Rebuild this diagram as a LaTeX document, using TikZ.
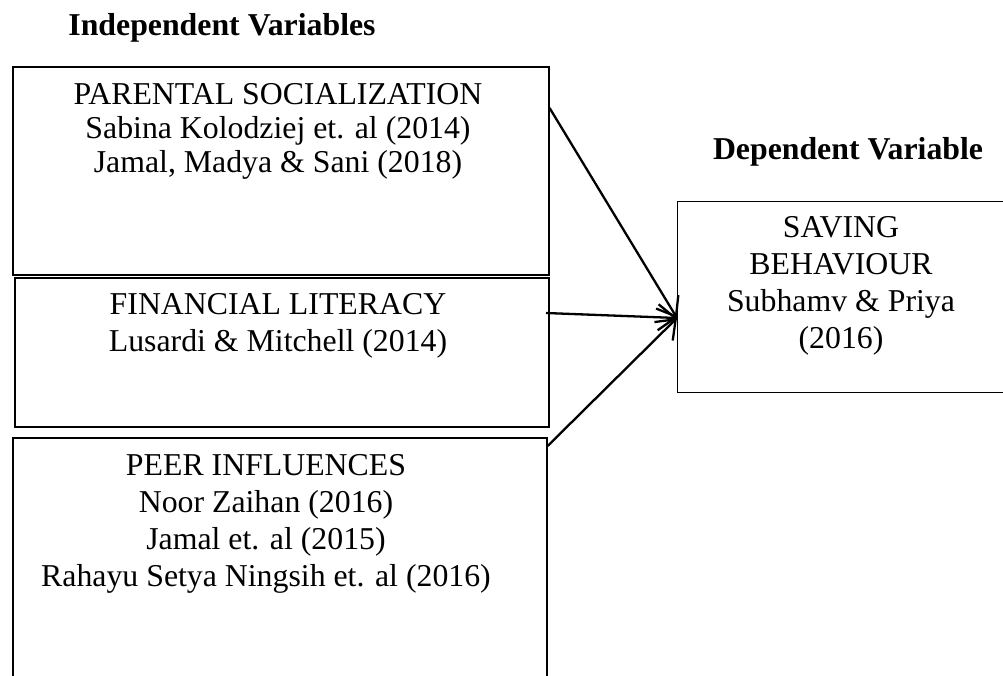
\documentclass[tikz,border=0pt]{standalone}
\usepackage{fontspec}
\setmainfont{Liberation Serif}
\usetikzlibrary{arrows.meta}

\begin{document}
\begin{tikzpicture}[x=1pt, y=-1pt,
  varbox/.style={draw, line width=1.6pt, inner sep=0pt, anchor=north west},
  depbox/.style={draw, line width=1.1pt, inner sep=0pt, anchor=north west},
  % multi-line texts are placed by the baseline of their last line
  boxtext/.style={align=center, inner sep=0pt, anchor=base,
    font=\fontsize{31.8}{37}\selectfont},
  heading/.style={inner sep=0pt, anchor=base,
    font=\fontsize{31.8}{37}\selectfont\bfseries},
  link/.style={line width=2.3pt,
    -{Straight Barb[length=17pt,width=26pt,line width=2.3pt]}}]
\useasboundingbox (0,0) rectangle (1003,675);
\clip (0,0) rectangle (1003,675);

% headings
\node[heading] (hind) at (222,35) {Independent Variables};
\node[heading] (hdep) at (848,159) {Dependent Variable};

% independent variable boxes
\node[varbox, minimum width=536pt, minimum height=208pt] (parent) at (12,66) {};
\node[varbox, minimum width=534pt, minimum height=149pt] (fin) at (14,277) {};
\node[varbox, minimum width=534pt, minimum height=300pt] (peer) at (12,437) {};

% dependent variable box
\node[depbox, minimum width=330pt, minimum height=191pt] (save) at (677,201) {};

% box texts
\node[boxtext, font=\fontsize{31.8}{34}\selectfont] (tparent) at (278,172)
  {PARENTAL SOCIALIZATION\\Sabina Kolodziej et. al (2014)\\Jamal, Madya \& Sani (2018)};
\node[boxtext] (tfin) at (278,351)
  {FINANCIAL LITERACY\\Lusardi \& Mitchell (2014)};
\node[boxtext] (tpeer) at (266,586)
  {PEER INFLUENCES\\Noor Zaihan (2016)\\Jamal et. al (2015)\\Rahayu Setya Ningsih et. al (2016)};
\node[boxtext] (tsave) at (841,348)
  {SAVING\\BEHAVIOUR\\Subhamv \& Priya\\(2016)};

% connectors
\coordinate (target) at (save.west |- 0,318);
\coordinate (s1) at (parent.east |- 0,108);
\coordinate (s2) at (546,313);
\coordinate (s3) at (peer.east |- 0,446);
\draw[link] (s1) -- (target);
\draw[link] (s2) -- (target);
\draw[link] (s3) -- (target);
\end{tikzpicture}
\end{document}
